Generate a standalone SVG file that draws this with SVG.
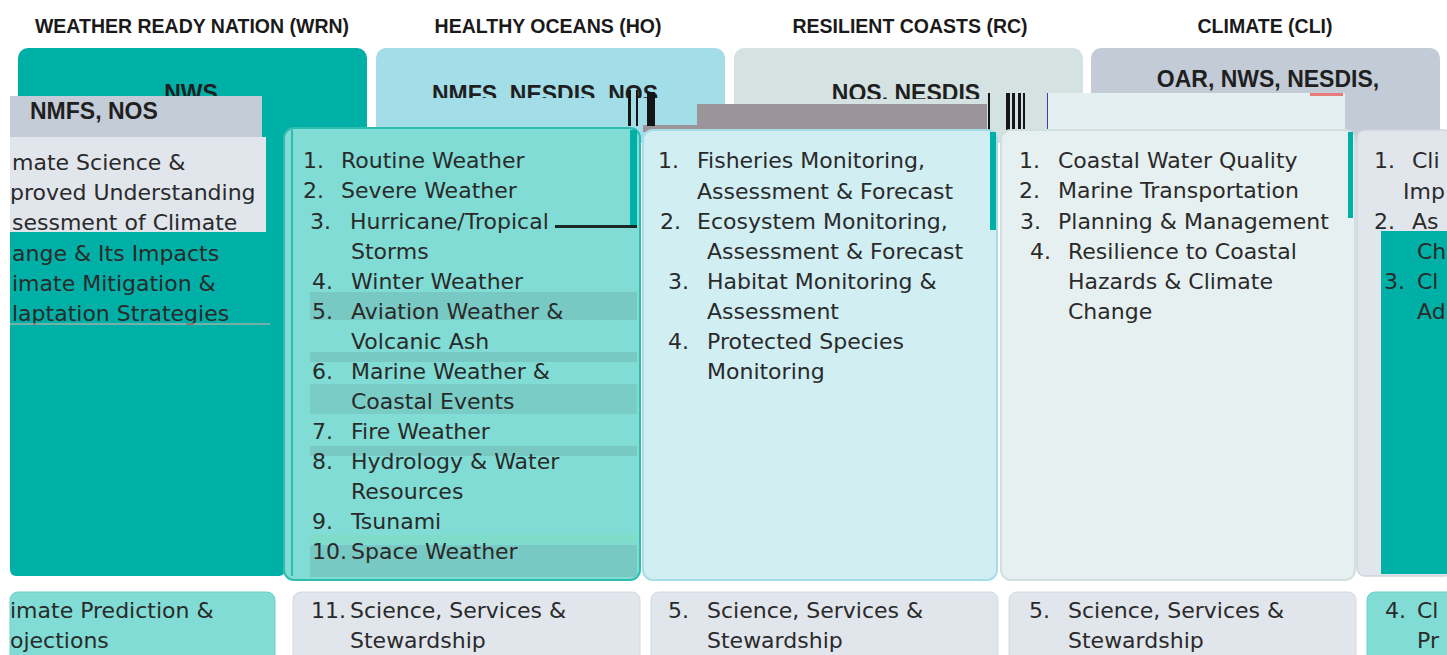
<svg xmlns="http://www.w3.org/2000/svg" width="1447" height="655" viewBox="0 0 1447 655">
<defs>
<style>
.title{font-family:"Liberation Sans",Arial,sans-serif;font-weight:bold;font-size:19.5px;fill:#1a1a1a;text-anchor:middle}
.h{font-family:"Liberation Sans",Arial,sans-serif;font-weight:bold;font-size:23px;fill:#1f1f1f}
.hc{text-anchor:middle}
.t{font-family:"DejaVu Sans","Noto Sans",sans-serif;font-size:22px;fill:#2a2a2a}
.teal{fill:#00b0a6}
.lteal{fill:#80dcd4}
.gray{fill:#e1e5ec}
.bar{fill:#151515}
</style>
<clipPath id="hoClip"><rect x="376" y="40" width="349" height="58"/></clipPath>
<clipPath id="rcClip"><rect x="734" y="40" width="349" height="59"/></clipPath>
</defs>
<rect width="1447" height="655" fill="#ffffff"/>

<g id="titles">
<text class="title" x="192" y="33">WEATHER READY NATION (WRN)</text>
<text class="title" x="548" y="33">HEALTHY OCEANS (HO)</text>
<text class="title" x="910" y="33">RESILIENT COASTS (RC)</text>
<text class="title" x="1265" y="33">CLIMATE (CLI)</text>
</g>

<g id="header-wrn">
<rect class="teal" x="18" y="48" width="349" height="100" rx="10"/>
<text class="h hc" x="191" y="101">NWS</text>
</g>
<g id="header-ho">
<rect x="376" y="48" width="349" height="95" rx="10" fill="#a2dde8"/>
<text class="h hc" x="545" y="102" clip-path="url(#hoClip)">NMFS, NESDIS, NOS</text>
</g>
<g id="header-rc">
<rect x="734" y="48" width="349" height="95" rx="10" fill="#d5e2e2"/>
<text class="h hc" x="906" y="101" clip-path="url(#rcClip)">NOS, NESDIS</text>
</g>
<g id="header-cli">
<rect x="1091" y="48" width="349" height="95" rx="10" fill="#c2cbd6"/>
<text class="h hc" x="1268" y="87">OAR, NWS, NESDIS,</text>
</g>

<g id="cli-left">
<rect class="teal" x="10" y="96" width="275" height="480" rx="6"/>
<rect x="10" y="96" width="252" height="41" fill="#c3ccd7"/>
<text class="h" x="30" y="119">NMFS, NOS</text>
<rect class="gray" x="10" y="137" width="256" height="95"/>
<text class="t" x="12" y="170">mate Science &amp;</text>
<text class="t" x="10" y="200">proved Understanding</text>
<text class="t" x="12" y="230">sessment of Climate</text>
<text class="t" x="12" y="261">ange &amp; Its Impacts</text>
<text class="t" x="12" y="291">imate Mitigation &amp;</text>
<text class="t" x="12" y="321">laptation Strategies</text>
<line x1="10" y1="324" x2="270" y2="324" stroke="#e6b0a8" stroke-width="1"/>
</g>

<g id="glitch-bars">
<polygon points="643,125 697,125 697,104 987,104 987,132 643,132" fill="#9b9599"/>
<rect x="1048" y="93" width="297" height="42" fill="#e3eff0"/>
<rect x="1310" y="93" width="33" height="3" fill="#e87a7a"/>
<rect class="bar" x="628" y="90" width="3" height="36"/>
<rect class="bar" x="636" y="90" width="2" height="36"/>
<rect class="bar" x="647" y="92" width="8" height="34"/>
<rect class="bar" x="988" y="93" width="2" height="38"/>
<rect class="bar" x="1006" y="93" width="4" height="37"/>
<rect class="bar" x="1012" y="93" width="3" height="37"/>
<rect class="bar" x="1018" y="93" width="3" height="37"/>
<rect class="bar" x="1023" y="93" width="2" height="37"/>
<rect x="1047" y="93" width="1" height="37" fill="#3040c0"/>
</g>

<g id="body-wrn">
<rect x="284" y="128" width="356" height="452" rx="10" fill="#80dcd4" stroke="#2fbcb0" stroke-width="2"/>
<rect x="291" y="130" width="2" height="446" fill="#2fbcb0"/>
<rect x="630" y="130" width="7" height="96" fill="#00b0a6"/>
<rect x="310" y="292" width="327" height="28" fill="#78c9c3"/>
<rect x="310" y="352" width="327" height="10" fill="#78c9c3"/>
<rect x="310" y="384" width="327" height="30" fill="#79cdc6"/>
<rect x="310" y="446" width="327" height="10" fill="#78c9c3"/>
<rect x="310" y="535" width="327" height="8" fill="#7fdcc8"/>
<rect x="310" y="545" width="327" height="32" fill="#78c9c3"/>
<rect x="555" y="225" width="82" height="3" fill="#1a2a2a"/>
<text class="t" x="303" y="168">1.</text><text class="t" x="341" y="168">Routine Weather</text>
<text class="t" x="303" y="198">2.</text><text class="t" x="341" y="198">Severe Weather</text>
<text class="t" x="310" y="229">3.</text><text class="t" x="350" y="229">Hurricane/Tropical</text>
<text class="t" x="351" y="259">Storms</text>
<text class="t" x="312" y="289">4.</text><text class="t" x="351" y="289">Winter Weather</text>
<text class="t" x="312" y="319">5.</text><text class="t" x="351" y="319">Aviation Weather &amp;</text>
<text class="t" x="351" y="349">Volcanic Ash</text>
<text class="t" x="312" y="379">6.</text><text class="t" x="351" y="379">Marine Weather &amp;</text>
<text class="t" x="351" y="409">Coastal Events</text>
<text class="t" x="312" y="439">7.</text><text class="t" x="351" y="439">Fire Weather</text>
<text class="t" x="312" y="469">8.</text><text class="t" x="351" y="469">Hydrology &amp; Water</text>
<text class="t" x="351" y="499">Resources</text>
<text class="t" x="312" y="529">9.</text><text class="t" x="351" y="529">Tsunami</text>
<text class="t" x="312" y="559">10.</text><text class="t" x="351" y="559">Space Weather</text>
</g>

<g id="body-ho">
<rect x="643" y="130" width="354" height="450" rx="10" fill="#d1eef3" stroke="#a6dde6" stroke-width="2"/>
<rect x="990" y="132" width="6" height="98" fill="#00b0a6"/>
<text class="t" x="658" y="168">1.</text><text class="t" x="697" y="168">Fisheries Monitoring,</text>
<text class="t" x="697" y="199">Assessment &amp; Forecast</text>
<text class="t" x="660" y="229">2.</text><text class="t" x="697" y="229">Ecosystem Monitoring,</text>
<text class="t" x="707" y="259">Assessment &amp; Forecast</text>
<text class="t" x="668" y="289">3.</text><text class="t" x="707" y="289">Habitat Monitoring &amp;</text>
<text class="t" x="707" y="319">Assessment</text>
<text class="t" x="668" y="349">4.</text><text class="t" x="707" y="349">Protected Species</text>
<text class="t" x="707" y="379">Monitoring</text>
</g>

<g id="body-rc">
<rect x="1001" y="130" width="354" height="450" rx="10" fill="#e7f0f0" stroke="#d2dfdf" stroke-width="2"/>
<rect x="1348" y="132" width="5" height="86" fill="#00b0a6"/>
<text class="t" x="1019" y="168">1.</text><text class="t" x="1058" y="168">Coastal Water Quality</text>
<text class="t" x="1019" y="198">2.</text><text class="t" x="1058" y="198">Marine Transportation</text>
<text class="t" x="1020" y="229">3.</text><text class="t" x="1058" y="229">Planning &amp; Management</text>
<text class="t" x="1030" y="259">4.</text><text class="t" x="1068" y="259">Resilience to Coastal</text>
<text class="t" x="1068" y="289">Hazards &amp; Climate</text>
<text class="t" x="1068" y="319">Change</text>
</g>

<g id="cli-right">
<rect class="gray" x="1357" y="130" width="95" height="446" rx="8" stroke="#d0d5dd" stroke-width="1.5"/>
<rect class="teal" x="1381" y="231" width="70" height="343"/>
<text class="t" x="1374" y="168">1.</text><text class="t" x="1412" y="168">Cli</text>
<text class="t" x="1403" y="199">Imp</text>
<text class="t" x="1374" y="229">2.</text><text class="t" x="1412" y="229">As</text>
<text class="t" x="1417" y="259">Ch</text>
<text class="t" x="1384" y="289">3.</text><text class="t" x="1417" y="289">Cl</text>
<text class="t" x="1417" y="319">Ad</text>
</g>

<g id="bottom-cli-left">
<rect class="lteal" x="10" y="592" width="265" height="75" rx="8" stroke="#6fd0c8" stroke-width="1"/>
<text class="t" x="10" y="618">imate Prediction &amp;</text>
<text class="t" x="10" y="648">ojections</text>
</g>
<g id="bottom-wrn">
<rect class="gray" x="293" y="592" width="347" height="75" rx="8" stroke="#d4d8e0" stroke-width="1"/>
<text class="t" x="311" y="618">11.</text><text class="t" x="350" y="618">Science, Services &amp;</text>
<text class="t" x="350" y="648">Stewardship</text>
</g>
<g id="bottom-ho">
<rect class="gray" x="651" y="592" width="347" height="75" rx="8" stroke="#d4d8e0" stroke-width="1"/>
<text class="t" x="668" y="618">5.</text><text class="t" x="707" y="618">Science, Services &amp;</text>
<text class="t" x="707" y="648">Stewardship</text>
</g>
<g id="bottom-rc">
<rect class="gray" x="1009" y="592" width="347" height="75" rx="8" stroke="#d4d8e0" stroke-width="1"/>
<text class="t" x="1029" y="618">5.</text><text class="t" x="1068" y="618">Science, Services &amp;</text>
<text class="t" x="1068" y="648">Stewardship</text>
</g>
<g id="bottom-cli-right">
<rect class="lteal" x="1367" y="592" width="90" height="75" rx="8" stroke="#6fd0c8" stroke-width="1"/>
<text class="t" x="1385" y="618">4.</text><text class="t" x="1417" y="618">Cl</text>
<text class="t" x="1417" y="648">Pr</text>
</g>
</svg>
